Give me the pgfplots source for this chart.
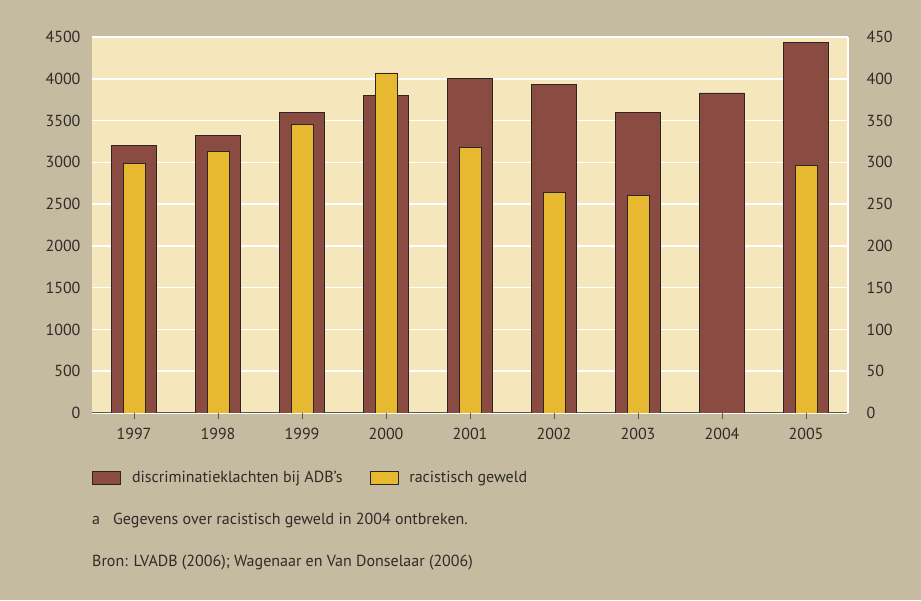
\documentclass[border=0pt]{standalone}
\usepackage{pgfplots}
\pgfplotsset{compat=1.18}
\usepackage{fontspec}
\setmainfont{PT Sans}
\definecolor{bgc}{HTML}{C5BBA1}
\definecolor{plotbg}{HTML}{F6E6BC}
\definecolor{brownc}{HTML}{8A4C42}
\definecolor{yellowc}{HTML}{E6B930}
\definecolor{barline}{HTML}{2B2622}
\definecolor{axisgray}{HTML}{5A5650}
\definecolor{textc}{HTML}{2E2B28}
\begin{document}
\fontsize{16pt}{19pt}\selectfont
\begin{tikzpicture}[x=1pt,y=1pt]
\fill[bgc] (0,0) rectangle (921,600);
\useasboundingbox (0,0) rectangle (921,600);
\begin{axis}[
  at={(92pt,187pt)}, anchor=south west,
  scale only axis, width=756pt, height=376pt,
  xmin=-0.5, xmax=8.5, ymin=0, ymax=4500,
  axis background/.style={fill=plotbg},
  axis x line*=bottom, axis y line*=left,
  x axis line style={draw=axisgray, line width=1pt, -},
  y axis line style={draw=none},
  xtick={0,...,8},
  xticklabels={1997,1998,1999,2000,2001,2002,2003,2004,2005},
  xtick style={draw=axisgray, line width=1pt},
  tick align=outside, major tick length=6pt,
  xticklabel style={yshift=-4pt},
  ytick={0,500,...,4500},
  ytick style={draw=none},
  ymajorgrids, grid style={white, line width=1.6pt},
  /pgf/number format/1000 sep={},
  /pgf/number format/assume math mode=true,
  tick label style={text=textc},
]
\addplot[ybar, bar width=45pt, fill=brownc, draw=barline, line width=0.8pt]
  coordinates {(0,3200) (1,3320) (2,3600) (3,3800) (4,4000) (5,3935) (6,3600) (7,3830) (8,4440)};
\end{axis}
\begin{axis}[
  at={(92pt,187pt)}, anchor=south west,
  scale only axis, width=756pt, height=376pt,
  xmin=-0.5, xmax=8.5, ymin=0, ymax=450,
  axis x line=none, axis y line*=right,
  y axis line style={draw=white, line width=1.6pt, -},
  ytick={0,50,...,450},
  ytick style={draw=none},
  tick align=outside, major tick length=8pt,
  extra y ticks={0}, extra y tick labels={},
  extra y tick style={major tick style={draw=axisgray, line width=1pt}},
  yticklabel style={xshift=5pt},
  /pgf/number format/1000 sep={},
  /pgf/number format/assume math mode=true,
  tick label style={text=textc},
  legend columns=2,
  legend style={at={(axis description cs:0,-0.1729)}, anchor=west, draw=none, fill=none,
    inner sep=0pt, text=textc,
    /tikz/every odd column/.append style={column sep=9pt},
    /tikz/every even column/.append style={column sep=25pt}},
  legend image code/.code={\draw[#1] (0pt,-6.5pt) rectangle (28pt,6.5pt);},
]
\addlegendimage{fill=brownc, draw=barline, line width=0.8pt}
\addlegendentry{discriminatieklachten bij ADB’s}
\addplot[ybar, bar width=22pt, fill=yellowc, draw=barline, line width=0.8pt]
  coordinates {(0,299) (1,313) (2,345) (3,407) (4,318) (5,264) (6,260) (8,296)};
\addlegendentry{racistisch geweld}
\end{axis}
\node[anchor=west, text=textc, inner sep=0pt] at (92,80) {a};
\node[anchor=west, text=textc, inner sep=0pt] at (113,80) {Gegevens over racistisch geweld in 2004 ontbreken.};
\node[anchor=west, text=textc, inner sep=0pt] at (92,37) {Bron: LVADB (2006); Wagenaar en Van Donselaar (2006)};
\end{tikzpicture}
\end{document}
